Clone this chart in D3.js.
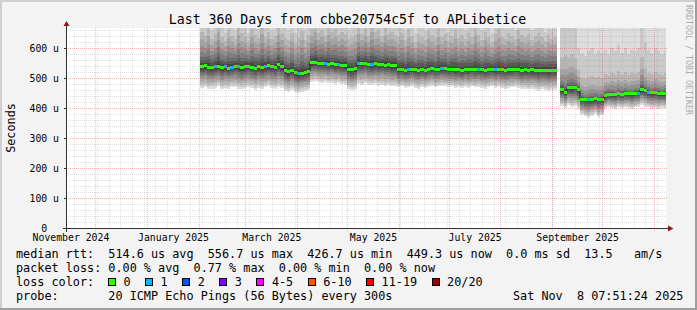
<!DOCTYPE html>
<html>
  <head>
    <meta http-equiv="Content-Type" content="text/html;charset=utf-8"/>
    <script src="https://d3js.org/d3.v7.min.js"></script>
    <style>
      body { margin: 0; background: #f3f3f3; }
      text { font-family: "DejaVu Sans Mono", monospace; white-space: pre; }
    </style>
  </head>
  <body>
    <script type="text/javascript">

var W = 697, H = 310;

// graph window: last 360 days up to the time stamp
var viewStart = "2024-11-13T07:51:24Z", viewEnd = "2025-11-08T07:51:24Z";

// one entry per 2 day step, first step starts at stepStart (us)
var stepStart = "2025-02-01T20:00:00Z", stepDays = 2;
var medianRtt = [
  538,541,536,534,537,540,535,538,533,536,539,537,534,538,540,536,533,537,535,538,541,537,536,545,539,
  524,521,525,518,514,516,520,522,
  551,553,550,548,549,546,547,544,545,542,541,
  530,528,531,
  549,547,550,546,545,548,544,546,543,545,541,542,
  527,529,526,528,530,527,525,528,
  526,529,531,528,530,532,531,529,
  530,527,528,526,529,527,530,528,
  529,527,526,528,530,527,529,528,
  526,527,529,530,528,526,527,525,
  527,526,524,526,525,524,526,525,
  null,
  462,452,468,467,468,462,
  430,427,427,428,431,427,429,
  441,446,445,444,447,446,449,448,447,449,450,
  462,458,452,451,453,449,448,449
];
// fastest ping of the step (bottom of the smoke)
var minPing = [
  466,470,463,465,468,472,462,467,464,469,471,465,462,468,470,466,461,467,464,469,472,466,463,470,467,
  458,455,460,452,450,455,457,460,
  488,490,486,484,487,482,485,480,483,479,478,
  462,460,465,
  480,478,482,476,477,480,475,478,474,477,472,473,
  470,472,467,469,473,468,465,470,
  466,471,474,469,472,475,473,470,
  472,468,470,466,471,467,472,469,
  470,467,465,469,472,466,470,468,
  464,466,469,471,467,463,465,462,
  464,461,458,462,460,457,461,459,
  null,
  407,400,410,405,408,398,
  378,372,368,375,380,370,376,
  398,402,400,396,404,399,403,401,397,402,404,
  410,405,402,398,400,397,401,399
];
// 19th of 20 pings (upper light edge of the smoke)
var topPing = [
  690,670,710,660,680,730,670,650,700,675,660,715,685,670,650,705,680,665,720,670,690,660,675,710,685,
  670,660,690,650,670,700,660,680,
  700,720,680,695,670,710,685,700,675,690,680,
  660,670,680,
  710,680,700,670,725,685,695,670,705,680,690,675,
  670,690,660,705,675,650,685,670,
  660,695,680,665,710,670,685,655,
  675,700,665,680,660,690,670,715,
  680,660,695,670,650,685,705,670,
  665,690,675,660,700,680,670,685,
  660,675,690,670,655,680,665,670,
  null,
  700,720,690,710,680,600,
  585,575,590,600,580,590,585,
  595,580,600,590,610,585,600,580,595,590,600,
  700,620,595,585,600,590,580,595
];
// lost pings per step
var lossCount = [
  0,0,0,0,1,0,0,1,0,1,0,1,0,0,0,0,0,0,0,1,
  0,0,0,0,0,0,0,0,0,1,0,0,0,0,0,0,0,1,0,0,
  0,1,0,0,0,0,0,1,0,0,0,1,0,0,0,0,0,0,0,0,
  0,0,1,0,0,0,0,0,0,0,0,0,1,0,0,0,0,0,0,0,
  0,0,0,1,0,0,0,0,1,0,0,0,0,0,0,0,0,0,0,0,
  0,0,0,0,0,0,0,0,0,0,0,0,0,0,0,0,1,0,0,0,
  0,0,0,0,0,0,0,0,0,0,0,1,0,0,1,0,0,0,0,0
];
// where pings 10..1 and 11..20 sit between the median and minPing / topPing
var lowerFrac = [0.07, 0.15, 0.25, 0.35, 0.45, 0.55, 0.68, 0.8, 0.9, 1];
var upperFracEarly = [0.03, 0.08, 0.15, 0.22, 0.33, 0.45, 0.6, 0.76, 1, 2.2];
var upperFracLate = [0.01, 0.025, 0.045, 0.075, 0.12, 0.2, 0.29, 0.46, 1, 2.2];
var lateFrom = "2025-09-05T00:00:00Z";

var yTicks = [0, 100, 200, 300, 400, 500, 600];
var yTickLabels = ["0", "100 u", "200 u", "300 u", "400 u", "500 u", "600 u"];
var xLabelMonths = ["2024-11-01", "2025-01-01", "2025-03-01", "2025-05-01", "2025-07-01", "2025-09-01"];

var lossLabels = ["0", "1", "2", "3", "4-5", "6-10", "11-19", "20/20"];
var lossColors = ["#26ff00", "#00b8ff", "#0059ff", "#7e00ff", "#ff00ff", "#ff5500", "#ff0000", "#a10000"];

var titleText = "Last 360 Days from cbbe20754c5f to APLibetice";
var legendRtt = "median rtt:  514.6 us avg  556.7 us max  426.7 us min  449.3 us now  0.0 ms sd  13.5   am/s";
var legendLoss = "packet loss: 0.00 % avg  0.77 % max  0.00 % min  0.00 % now";
var legendProbe = "probe:       20 ICMP Echo Pings (56 Bytes) every 300s";
var stampText = "Sat Nov  8 07:51:24 2025";

var x = d3.scaleTime().domain([new Date(viewStart), new Date(viewEnd)]).range([66, 666]);
var y = d3.scaleLinear().domain([0, 666.67]).range([228, 28]);

function lossBucket(n) {
  if (n <= 3) return n;
  if (n <= 5) return 4;
  if (n <= 10) return 5;
  if (n <= 19) return 6;
  return 7;
}

var t0 = new Date(stepStart), late = new Date(lateFrom);
var steps = medianRtt.map(function(m, k) {
  var a = d3.utcDay.offset(t0, k * stepDays), b = d3.utcDay.offset(t0, (k + 1) * stepDays);
  return {t: a, x0: Math.round(x(a)), x1: Math.round(Math.min(x(b), 666)),
          med: m, min: minPing[k], top: topPing[k], loss: lossCount[k]};
});

function pingsOf(d) {
  var up = d.t >= late ? upperFracLate : upperFracEarly;
  var lo = lowerFrac.map(function(f) { return d.med - (d.med - d.min) * f; }).reverse();
  var hi = up.map(function(f) { return d.med + (d.top - d.med) * f; });
  return lo.concat(hi);
}

var svg = d3.select("body").append("svg").attr("width", W).attr("height", H);

svg.append("rect").attr("width", W).attr("height", H).attr("fill", "#f3f3f3");
svg.append("rect").attr("width", W).attr("height", 2).attr("fill", "#cfcfcf");
svg.append("rect").attr("width", 2).attr("height", H).attr("fill", "#cfcfcf");
svg.append("rect").attr("y", H - 2).attr("width", W).attr("height", 2).attr("fill", "#9e9e9e");
svg.append("rect").attr("x", W - 2).attr("width", 2).attr("height", H).attr("fill", "#9e9e9e");

svg.append("rect").attr("x", 66).attr("y", 28).attr("width", 600).attr("height", 200).attr("fill", "#fff");

svg.append("clipPath").attr("id", "plot")
  .append("rect").attr("x", 66).attr("y", 28).attr("width", 600).attr("height", 200);

// smoke: 10 bands, outermost pair lightest
var bands = steps.filter(function(d) { return d.med != null; }).flatMap(function(d) {
  var p = pingsOf(d);
  return d3.range(10).map(function(i) { return {x0: d.x0, x1: d.x1, lo: p[i], hi: p[19 - i], band: i}; });
});
svg.append("g").attr("clip-path", "url(#plot)").attr("shape-rendering", "crispEdges")
  .selectAll("rect").data(bands).join("rect")
  .attr("x", function(d) { return d.x0; })
  .attr("width", function(d) { return d.x1 - d.x0; })
  .attr("y", function(d) { return y(d.hi); })
  .attr("height", function(d) { return y(d.lo) - y(d.hi); })
  .attr("fill", function(d) { var c = Math.floor(190 / 10 * (9 - d.band)) + 50; return d3.rgb(c, c, c); });

// median
var medPts = steps.flatMap(function(d) {
  return d.med == null ? [null] : [[d.x0, y(d.med)], [d.x1, y(d.med)]];
});
svg.append("path")
  .attr("d", d3.line().defined(function(p) { return p != null; })(medPts))
  .attr("fill", "none").attr("stroke", "#202020").attr("stroke-width", 1);
svg.append("g").attr("shape-rendering", "crispEdges")
  .selectAll("rect").data(steps.filter(function(d) { return d.med != null; })).join("rect")
  .attr("x", function(d) { return d.x0; })
  .attr("width", function(d) { return d.x1 - d.x0; })
  .attr("y", function(d) { return y(d.med) - 1.5; })
  .attr("height", 3)
  .attr("fill", function(d) { return lossColors[lossBucket(d.loss)]; });

// grid on top
var grid = svg.append("g").attr("shape-rendering", "crispEdges").attr("stroke-dasharray", "1,1");
var minorY = d3.range(20, 667, 20).filter(function(v) { return v % 100 != 0; });
grid.selectAll(".hmin").data(minorY).join("line")
  .attr("x1", 66).attr("x2", 666)
  .attr("y1", function(v) { return Math.round(y(v)) + 0.5; })
  .attr("y2", function(v) { return Math.round(y(v)) + 0.5; })
  .attr("stroke", "rgba(140,140,140,0.27)");
grid.selectAll(".vmin").data(d3.utcMonday.range(x.domain()[0], x.domain()[1])).join("line")
  .attr("y1", 28).attr("y2", 228)
  .attr("x1", function(t) { return Math.round(x(t)) + 0.5; })
  .attr("x2", function(t) { return Math.round(x(t)) + 0.5; })
  .attr("stroke", "rgba(140,140,140,0.27)");
grid.selectAll(".hmaj").data(yTicks.slice(1)).join("line")
  .attr("x1", 64).attr("x2", 668)
  .attr("y1", function(v) { return Math.round(y(v)) + 0.5; })
  .attr("y2", function(v) { return Math.round(y(v)) + 0.5; })
  .attr("stroke", "rgba(220,40,40,0.33)");
grid.selectAll(".vmaj").data(d3.utcMonth.range(x.domain()[0], x.domain()[1])).join("line")
  .attr("y1", 28).attr("y2", 231)
  .attr("x1", function(t) { return Math.round(x(t)) + 0.5; })
  .attr("x2", function(t) { return Math.round(x(t)) + 0.5; })
  .attr("stroke", "rgba(220,40,40,0.33)");

// axes
var yAxis = svg.append("g").attr("transform", "translate(66,0)")
  .call(d3.axisLeft(y).tickValues(yTicks).tickSize(2).tickPadding(5)
    .tickFormat(function(v, i) { return yTickLabels[i]; }));
yAxis.select(".domain").remove();
yAxis.attr("font-size", 9.8).selectAll("line").attr("stroke", "#333");
yAxis.selectAll("text").attr("fill", "#000")
  .attr("dx", function(v) { return v == 0 ? -11.8 : 0; });

var mids = xLabelMonths.map(function(s) {
  var a = new Date(s + "T00:00:00Z"), b = d3.utcMonth.offset(a, 1);
  return new Date((+a + +b) / 2);
});
var xAxis = svg.append("g").attr("transform", "translate(0,228)")
  .call(d3.axisBottom(x).tickValues(mids).tickSize(0).tickPadding(6)
    .tickFormat(d3.utcFormat("%B %Y")));
xAxis.select(".domain").remove();
xAxis.attr("font-size", 9.8).selectAll("text").attr("fill", "#000");

svg.append("line").attr("x1", 63).attr("x2", 668).attr("y1", 228.5).attr("y2", 228.5)
  .attr("stroke", "#333").attr("shape-rendering", "crispEdges");
svg.append("line").attr("x1", 66.5).attr("x2", 66.5).attr("y1", 232).attr("y2", 26)
  .attr("stroke", "#333").attr("shape-rendering", "crispEdges");
svg.append("path").attr("d", "M668,225.5L673.5,228.5L668,231.5Z").attr("fill", "#8b1a1a");
svg.append("path").attr("d", "M63.5,26L66.5,21L69.5,26Z").attr("fill", "#8b1a1a");

// texts
svg.append("text").attr("x", 347.5).attr("y", 24).attr("text-anchor", "middle")
  .attr("font-size", 13.2).text(titleText);
svg.append("text").attr("transform", "translate(15,128) rotate(-90)").attr("text-anchor", "middle")
  .attr("font-size", 11.8).text("Seconds");
svg.append("text").attr("transform", "translate(686,5) rotate(90)")
  .attr("font-size", 8.3).attr("fill", "#aaa").text("RRDTOOL / TOBI OETIKER");

var leg = svg.append("g").attr("font-size", 11.8);
leg.append("text").attr("x", 16).attr("y", 258).text(legendRtt);
leg.append("text").attr("x", 16).attr("y", 272).text(legendLoss);
leg.append("text").attr("x", 16).attr("y", 286).text("loss color:");
var bx = 108.5;
lossLabels.forEach(function(l, i) {
  leg.append("rect").attr("x", bx).attr("y", 278.5).attr("width", 7).attr("height", 7)
    .attr("fill", lossColors[i]).attr("stroke", "#000").attr("shape-rendering", "crispEdges");
  leg.append("text").attr("x", bx + 15).attr("y", 286).text(l);
  bx += 30 + 7.1 * l.length;
});
leg.append("text").attr("x", 16).attr("y", 300).text(legendProbe);
leg.append("text").attr("x", 513).attr("y", 300).text(stampText);
    </script>
  </body>
</html>
